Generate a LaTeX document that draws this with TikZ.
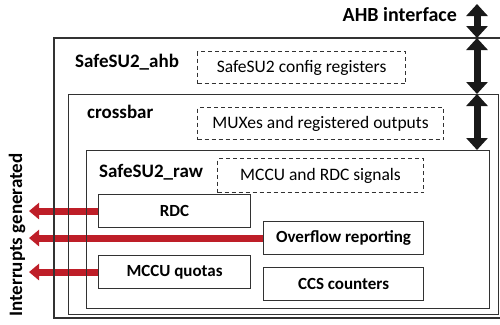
\documentclass[tikz,border=0pt]{standalone}
\usepackage{fontspec}
\setmainfont{Carlito}
\usetikzlibrary{arrows.meta,positioning,backgrounds}
\definecolor{irqred}{RGB}{190,30,40}
\definecolor{frame}{RGB}{50,50,50}
\tikzset{
  blk/.style 2 args={draw=frame, line width=1.1pt, minimum width=#1pt, minimum height=#2pt,
    anchor=north west, inner sep=0pt, font=\bfseries\fontsize{17}{20}\selectfont},
  reg/.style 2 args={blk={#1}{#2}, dash pattern=on 4pt off 3pt, font=\fontsize{17.5}{20}\selectfont},
  title/.style={font=\bfseries\fontsize{19}{22}\selectfont, anchor=base west, inner sep=0pt},
  irq/.style={irqred, line width=7pt, -{Triangle[width=16pt,length=10pt]}},
  bus/.style={black!90, line width=7pt,
    {Triangle[width=21pt,length=12pt]}-{Triangle[width=21pt,length=12pt]}}
}

\begin{document}
\begin{tikzpicture}[x=1pt,y=-1pt]
  \useasboundingbox (0,0) rectangle (500,324);
  % SafeSU2_ahb frame, open to the right
  \draw[frame, line width=1.1pt] (501,38) -| (54,318) -- (501,318);
  \node[title] (ahb) at (75,67) {SafeSU2\_ahb};
  \node[blk={430}{220}] (xbar) at (68,94) {};
  \node[title] (xbarlbl) at (87,118) {crossbar};
  \node[blk={403}{158}] (raw) at (86,150) {};
  \node[title] (rawlbl) at (99,177) {SafeSU2\_raw};

  % registers
  \node[reg={208}{32}] (cfg) at (197,51) {SafeSU2 config registers};
  \node[reg={246}{32}] (mux) at (197,107) {MUXes and registered outputs};
  \node[reg={206}{34}] (sig) at (217,158) {MCCU and RDC signals};

  % units
  \node[blk={152}{33}] (rdc) at (98,194) {RDC};
  \node[blk={160}{33}] (ovf) at (263,221) {Overflow reporting};
  \node[blk={152}{33}] (mccu) at (98,255) {MCCU quotas};
  \node[blk={160}{33}] (ccs) at (263,267) {CCS counters};

  % interrupts, under the frames
  \coordinate (irqx) at (29,0);
  \begin{scope}[on background layer]
    \draw[irq] (rdc.west) -- (rdc.west -| irqx);
    \draw[irq] (ovf.west) -- (ovf.west -| irqx);
    \draw[irq] (mccu.west) -- (mccu.west -| irqx);
  \end{scope}
  \node[title, rotate=90, anchor=base] (irqlbl) at (22,235) {Interrupts generated};

  % AHB bus
  \coordinate (b0) at (477,4);
  \coordinate (b1) at (477,38);
  \coordinate (b2) at (xbar.north -| b0);
  \coordinate (b3) at (raw.north -| b0);
  \draw[bus] (b0) -- (b1);
  \draw[bus] (b1) -- (b2);
  \draw[bus] (b2) -- (b3);
  \node[title, font=\bfseries\fontsize{20}{23}\selectfont, anchor=base east] (ahblbl) at (457,21) {AHB interface};
\end{tikzpicture}
\end{document}
